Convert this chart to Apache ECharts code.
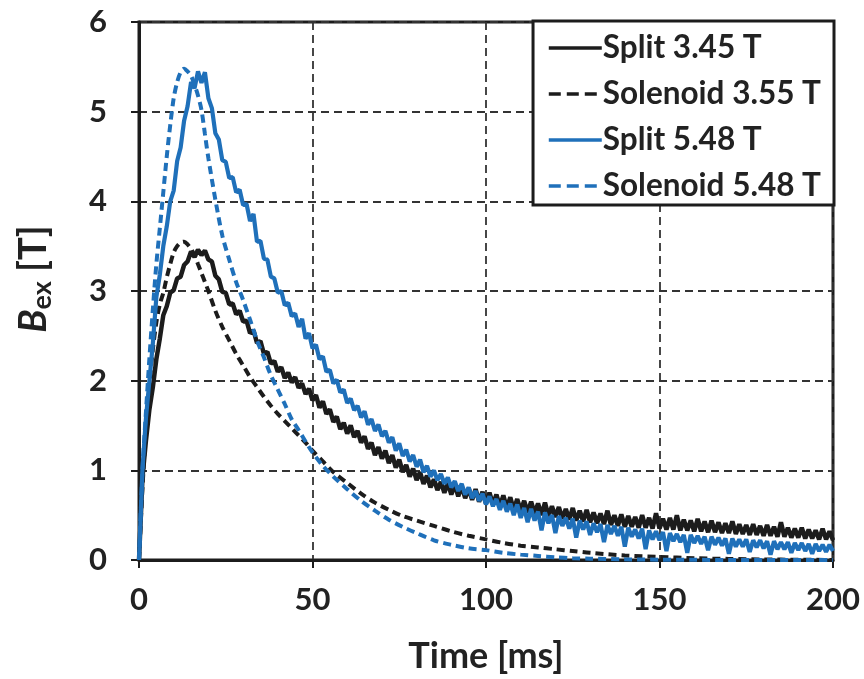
<!DOCTYPE html>
<html>
<head>
<meta charset="utf-8">
<script src="https://cdn.jsdelivr.net/npm/echarts@6/dist/echarts.min.js"></script>
<style>
html,body{margin:0;padding:0;background:#fff;}
#chart{width:864px;height:679px;}
</style>
</head>
<body>
<div id="chart"></div>
<script>
// ---- data ----
var seriesNames = ['Split 3.45 T', 'Solenoid 3.55 T', 'Split 5.48 T', 'Solenoid 5.48 T'];
var xTicks = [0, 50, 100, 150, 200];
var yTicks = [0, 1, 2, 3, 4, 5, 6];

// time samples for the solenoid curves (ms)
var timeSolenoid = [0,1,2,3,4,5,6,7,8,9,10,11,12,13,14,15,16,17,18,19,20,22,24,26,28,30,32,34,36,38,40,42,44,46,48,50,53,56,60,64,68,72,76,80,85,90,95,100,105,110,115,120,125,130,140,150,160,170,180,190,200];

var solenoid355 = [0,0.8,1.45,1.95,2.35,2.65,2.85,2.98,3.15,3.3,3.43,3.5,3.54,3.55,3.52,3.47,3.4,3.3,3.2,3.1,3.0,2.78,2.6,2.45,2.3,2.17,2.04,1.93,1.82,1.72,1.63,1.55,1.47,1.39,1.31,1.22,1.1,0.98,0.86,0.74,0.64,0.56,0.49,0.44,0.38,0.32,0.27,0.23,0.19,0.16,0.14,0.12,0.1,0.08,0.05,0.035,0.02,0.012,0.006,0.003,0];

var solenoid548 = [0,1.0,1.65,2.25,2.8,3.3,3.7,4.1,4.5,4.85,5.15,5.33,5.44,5.48,5.45,5.4,5.3,5.18,5.02,4.75,4.48,4.02,3.62,3.35,3.1,2.9,2.68,2.45,2.26,2.06,1.9,1.74,1.57,1.45,1.32,1.2,1.05,0.93,0.79,0.66,0.55,0.45,0.37,0.3,0.22,0.17,0.13,0.11,0.08,0.06,0.045,0.03,0.02,0.015,0.008,0.004,0.002,0,0,0,0];

// time samples for the split curves (ms), 1 ms spacing
var timeSplit = [];
for (var i = 0; i <= 200; i++) timeSplit.push(i);

var split345 = [0,0.92,1.33,1.68,1.93,2.24,2.47,2.73,2.83,2.98,3.01,3.14,3.16,3.29,3.33,3.44,3.38,3.46,3.4,3.45,3.35,3.33,3.17,3.13,2.99,2.98,2.85,2.86,2.74,2.78,2.66,2.67,2.53,2.56,2.42,2.44,2.3,2.32,2.19,2.22,2.1,2.15,2.03,2.09,1.98,2.04,1.92,1.97,1.85,1.91,1.78,1.84,1.7,1.77,1.63,1.68,1.54,1.6,1.46,1.53,1.41,1.5,1.37,1.44,1.31,1.38,1.24,1.31,1.17,1.26,1.13,1.22,1.08,1.17,1.03,1.12,0.98,1.06,0.93,1.02,0.89,0.98,0.85,0.94,0.81,0.9,0.78,0.87,0.75,0.86,0.73,0.84,0.71,0.82,0.69,0.8,0.67,0.79,0.65,0.76,0.63,0.75,0.62,0.73,0.6,0.72,0.58,0.7,0.56,0.68,0.55,0.66,0.53,0.65,0.52,0.63,0.5,0.64,0.49,0.6,0.48,0.59,0.46,0.57,0.45,0.58,0.44,0.55,0.43,0.56,0.42,0.53,0.41,0.52,0.4,0.55,0.39,0.5,0.38,0.51,0.37,0.49,0.37,0.48,0.36,0.5,0.36,0.47,0.35,0.52,0.35,0.46,0.34,0.47,0.34,0.5,0.33,0.45,0.33,0.44,0.32,0.46,0.32,0.43,0.31,0.44,0.31,0.42,0.3,0.41,0.3,0.43,0.29,0.4,0.29,0.39,0.28,0.4,0.28,0.38,0.27,0.39,0.27,0.37,0.26,0.42,0.26,0.36,0.25,0.35,0.25,0.36,0.24,0.34,0.24,0.33,0.23,0.35,0.23,0.32,0.22];

var split548 = [0,1.02,1.58,2.0,2.42,2.93,3.18,3.5,3.72,4.0,4.12,4.45,4.6,4.9,5.06,5.33,5.26,5.45,5.32,5.44,5.15,5.04,4.76,4.69,4.46,4.44,4.26,4.27,4.1,4.13,3.96,3.97,3.78,3.86,3.55,3.56,3.36,3.35,3.16,3.14,2.98,3.0,2.84,2.87,2.72,2.75,2.6,2.69,2.47,2.53,2.36,2.4,2.24,2.27,2.1,2.12,1.97,2.01,1.87,1.9,1.75,1.8,1.67,1.72,1.59,1.66,1.51,1.57,1.44,1.51,1.38,1.44,1.31,1.37,1.22,1.3,1.16,1.23,1.1,1.17,1.04,1.12,0.98,1.05,0.93,1.0,0.89,0.96,0.85,0.92,0.81,0.88,0.77,0.85,0.73,0.81,0.69,0.77,0.66,0.74,0.62,0.71,0.6,0.68,0.56,0.66,0.54,0.63,0.5,0.62,0.47,0.58,0.42,0.57,0.44,0.54,0.33,0.53,0.41,0.5,0.3,0.49,0.38,0.47,0.35,0.46,0.25,0.44,0.34,0.43,0.28,0.41,0.31,0.4,0.2,0.39,0.29,0.38,0.27,0.37,0.15,0.36,0.26,0.34,0.24,0.35,0.12,0.33,0.23,0.32,0.22,0.31,0.1,0.3,0.21,0.29,0.2,0.28,0.08,0.28,0.19,0.27,0.18,0.26,0.11,0.26,0.17,0.25,0.16,0.24,0.07,0.24,0.15,0.23,0.15,0.23,0.09,0.22,0.14,0.22,0.13,0.21,0.06,0.21,0.12,0.2,0.12,0.2,0.08,0.19,0.11,0.19,0.1,0.18,0.07,0.18,0.1,0.17,0.09,0.17,0.1];

// ---- build ----
function zip(t, v) { return t.map(function (x, k) { return [x, v[k]]; }); }

var BLACK = '#1c1c1c';
var BLUE = '#1f70ba';
var FONT = 'Lato';
var TXT = '#222';
var solidIcon = {width: 3.5, type: 'solid'};
var dashIcon = {width: 3.5, type: [12, 6]};

var chart = echarts.init(document.getElementById('chart'), null, {renderer: 'canvas'});
chart.setOption({
  animation: false,
  backgroundColor: '#fff',
  grid: {
    left: 139, right: 31, top: 22, bottom: 119,
    show: true, borderColor: BLACK, borderWidth: 3, backgroundColor: 'transparent'
  },
  legend: {
    data: [
      {name: seriesNames[0], lineStyle: solidIcon},
      {name: seriesNames[1], lineStyle: dashIcon},
      {name: seriesNames[2], lineStyle: solidIcon},
      {name: seriesNames[3], lineStyle: dashIcon}
    ],
    orient: 'vertical',
    right: 30, top: 21,
    backgroundColor: '#fff',
    borderColor: BLACK, borderWidth: 3,
    borderRadius: 0,
    padding: [11, 13, 3, 14],
    itemWidth: 53, itemHeight: 14, itemGap: 14,
    itemStyle: {opacity: 0, borderWidth: 0},
    textStyle: {fontFamily: FONT, fontWeight: 'bold', fontSize: 31.5, lineHeight: 31, color: TXT, padding: [0, 0, 0, -4]}
  },
  xAxis: {
    type: 'value', min: 0, max: 200, interval: 50,
    name: 'Time [ms]', nameLocation: 'middle', nameGap: 78,
    nameTextStyle: {fontFamily: FONT, fontWeight: 'bold', fontSize: 36, color: TXT},
    axisLine: {show: true, lineStyle: {color: BLACK, width: 3}},
    axisTick: {show: true, inside: false, length: 8, lineStyle: {color: BLACK, width: 2}},
    axisLabel: {fontFamily: FONT, fontWeight: 'bold', fontSize: 31, color: TXT, margin: 24,
      formatter: function (v) { return xTicks.indexOf(v) >= 0 ? String(v) : ''; }},
    splitLine: {show: true, lineStyle: {color: '#333', width: 1.8, type: [8, 5]}}
  },
  yAxis: {
    type: 'value', min: 0, max: 6, interval: 1,
    name: '{b|B}{s|ex}{n| [T]}', nameLocation: 'middle', nameGap: 83, nameRotate: 90,
    nameTextStyle: {
      padding: [0, 0, 0, 24],
      rich: {
        b: {fontFamily: FONT, fontWeight: 'bold', fontStyle: 'italic', fontSize: 38, color: TXT},
        s: {fontFamily: FONT, fontWeight: 'bold', fontSize: 27, color: TXT, padding: [17, 0, 0, 0]},
        n: {fontFamily: FONT, fontWeight: 'bold', fontSize: 38, color: TXT}
      }
    },
    axisLine: {show: true, lineStyle: {color: BLACK, width: 3}},
    axisTick: {show: true, inside: false, length: 8, lineStyle: {color: BLACK, width: 2}},
    axisLabel: {fontFamily: FONT, fontWeight: 'bold', fontSize: 31, color: TXT, margin: 32,
      formatter: function (v) { return yTicks.indexOf(v) >= 0 ? String(v) : ''; }},
    splitLine: {show: true, lineStyle: {color: '#333', width: 1.8, type: [8, 5]}}
  },
  series: [
    {name: seriesNames[0], type: 'line', showSymbol: false, symbol: 'none', data: zip(timeSplit, split345),
      lineStyle: {color: BLACK, width: 4.5}, itemStyle: {color: BLACK}, z: 2},
    {name: seriesNames[1], type: 'line', showSymbol: false, symbol: 'none', data: zip(timeSolenoid, solenoid355), smooth: 0.3,
      lineStyle: {color: BLACK, width: 4, type: [8, 5]}, itemStyle: {color: BLACK}, z: 3},
    {name: seriesNames[2], type: 'line', showSymbol: false, symbol: 'none', data: zip(timeSplit, split548),
      lineStyle: {color: BLUE, width: 4.2}, itemStyle: {color: BLUE}, z: 4},
    {name: seriesNames[3], type: 'line', showSymbol: false, symbol: 'none', data: zip(timeSolenoid, solenoid548), smooth: 0.3,
      lineStyle: {color: BLUE, width: 4, type: [8, 5]}, itemStyle: {color: BLUE}, z: 5}
  ]
});
</script>
</body>
</html>
